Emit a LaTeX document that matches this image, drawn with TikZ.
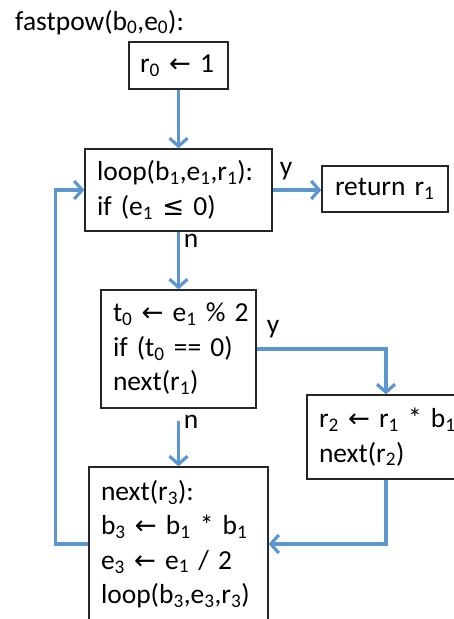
\documentclass[tikz,border=0pt]{standalone}
\usepackage{fontspec}
\setmainfont{Carlito}
\newfontfamily\arrowfont[Scale=0.95]{DejaVu Sans}
\usetikzlibrary{arrows.meta}
\definecolor{flowblue}{RGB}{91,150,207}
\newcommand{\lo}[1]{\textsubscript{#1}}
\newcommand{\la}{{\arrowfont ←}}
\newcommand{\leqs}{{\arrowfont ≤}}
\newcommand{\bodyfont}{\fontsize{27.5}{34.5}\selectfont}
\begin{document}
\begin{tikzpicture}[x=1pt,y=-1pt,
    box/.style={draw=black!85, line width=1.3pt, inner xsep=12pt, inner ysep=4pt, align=left, font=\bodyfont},
    flow/.style={line width=3.2pt, draw=flowblue, -{Straight Barb[length=8pt,width=18pt,line width=3.2pt]}},
    lab/.style={inner sep=0pt, font=\bodyfont}]
  \clip (0,0) rectangle (454,619);

  \node[lab, anchor=base west] (title) at (15,30) {fastpow(b\lo{0},e\lo{0}):};

  \node[box, inner xsep=11pt, text width=77pt, minimum height=47pt] (init) at (178.5,65.5) {\mbox{r\lo{0} \la{} 1}};
  \node[box, text width=163pt, minimum height=82pt] (loop) at (178.5,190)
    {\mbox{loop(b\lo{1},e\lo{1},r\lo{1}):}\\\mbox{if (e\lo{1} \leqs{} 0)}};
  \node[box, inner xsep=13pt, text width=100pt, minimum height=46pt] (ret) at (385,189) {\mbox{return r\lo{1}}};
  \node[box, text width=131pt, minimum height=118pt] (parity) at (178.5,349)
    {\mbox{t\lo{0} \la{} e\lo{1} \% 2}\\\mbox{if (t\lo{0} == 0)}\\\mbox{next(r\lo{1})}};
  \node[box, text width=134pt, minimum height=84pt] (odd) at (386,437)
    {\mbox{r\lo{2} \la{} r\lo{1} * b\lo{1}}\\\mbox{next(r\lo{2})}};
  \node[box, text width=155pt, minimum height=154pt] (next) at (178.5,544)
    {\mbox{next(r\lo{3}):}\\\mbox{b\lo{3} \la{} b\lo{1} * b\lo{1}}\\\mbox{e\lo{3} \la{} e\lo{1} / 2}\\\mbox{loop(b\lo{3},e\lo{3},r\lo{3})}};

  \coordinate (back) at (55.5,544);

  \draw[flow] (init) -- (loop);
  \draw[flow] (loop.east) -- (ret.west |- loop.east);
  \draw[flow] (loop) -- (parity);
  \draw[flow] (parity.east) -| (odd.north);
  \draw[flow, shorten <=12pt] (parity) -- (next);
  \draw[flow] (odd.south) |- (next.east);
  \draw[flow] (next.west) -- (back) |- (loop.west);

  \node[lab] (yloop) at (286,171) {y};
  \node[lab] (nloop) at (191,241) {n};
  \node[lab] (yodd) at (273,329) {y};
  \node[lab] (nodd) at (191,422) {n};
\end{tikzpicture}
\end{document}
